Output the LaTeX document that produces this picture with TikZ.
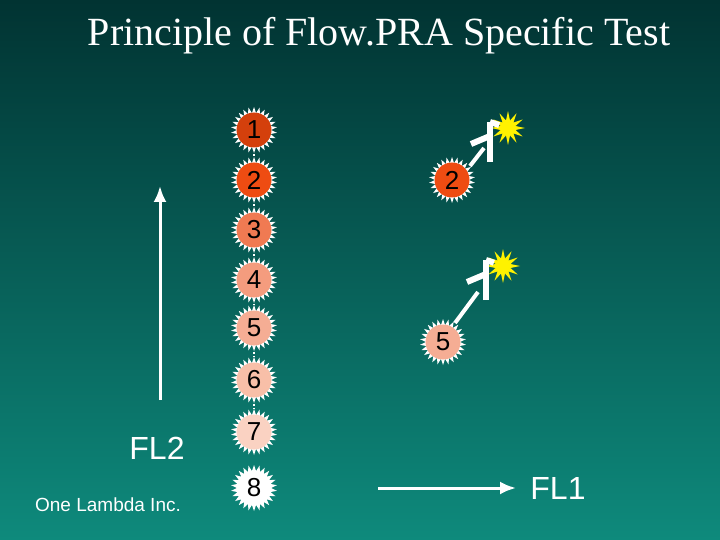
\documentclass[tikz,border=0pt]{standalone}
\usepackage{fontspec}
\setmainfont{Liberation Serif}
\setsansfont{Liberation Sans}
\usetikzlibrary{shapes.symbols,shapes.geometric,arrows.meta}
\definecolor{bgtop}{HTML}{013332}
\definecolor{bgbot}{HTML}{0E8A7C}
\definecolor{b1}{HTML}{D4400C}
\definecolor{b2}{HTML}{EE4C12}
\definecolor{b3}{HTML}{F07A52}
\definecolor{b4}{HTML}{F49C7E}
\definecolor{b5}{HTML}{F5AD94}
\definecolor{b6}{HTML}{F8BFA8}
\definecolor{b7}{HTML}{FAD2C2}
\definecolor{b8}{HTML}{FFFFFF}
\tikzset{
 burst/.style={shape=starburst,starburst points=26,starburst point height=6pt,random starburst=0,fill=white,draw=none,minimum size=46pt,inner sep=0pt},
 core/.style={circle,fill=#1,minimum size=35pt,inner sep=0pt,font=\sffamily\fontsize{26}{26}\selectfont},
 ab/.style={white,line width=6pt},
 flu/.style={shape=star,star points=12,star point ratio=2.2,fill=yellow,draw=none,minimum size=34pt,inner sep=0pt},
 arr/.style={white,line width=3pt,-{Latex[length=16pt,width=13pt]}},
 lbl/.style={white,font=\sffamily\fontsize{32}{32}\selectfont}
}
\begin{document}
\begin{tikzpicture}[x=1pt,y=-1pt]
\shade[top color=bgtop,bottom color=bgbot] (0,0) rectangle (720,540);
\useasboundingbox (0,0) rectangle (720,540);
\node[white,font=\fontsize{40}{40}\selectfont] (title) at (379,36) {Principle of Flow.PRA Specific Test};
\foreach \i/\y in {1/130,2/180,3/230,4/280,5/328,6/380,7/432,8/488}{
  \node[burst] (s\i) at (254,\y) {};
  \node[core=b\i] (c\i) at (254,\y) {\i};
}
\foreach \a/\b in {1/2,2/3,3/4,4/5,5/6,6/7}{
  \draw[white,line width=2pt,dotted] (s\a) -- (s\b);
}
% right beads
\node[burst] (r2) at (452,180) {};
\node[core=b2] (rc2) at (452,180) {2};
\node[burst] (r5) at (443,342) {};
\node[core=b5] (rc5) at (443,342) {5};
% antibodies top
\coordinate (p0) at (470,166);
\coordinate (p1) at (484,148);
\coordinate (y1b) at (490,162);
\coordinate (y1t) at (490,122);
\coordinate (y1m) at (490,136);
\coordinate (y1l) at (471,144);
\node[flu] (f1) at (508,128) {};
\draw[white,line width=4pt] (p0) -- (p1);
\draw[ab] (y1b) -- (y1t);
\draw[ab] (y1m) -- (y1l);
\draw[ab] (y1t) -- (f1);
% antibodies bottom
\coordinate (q0) at (455,323);
\coordinate (p2) at (478,292);
\coordinate (y2b) at (486,300);
\coordinate (y2t) at (486,260);
\coordinate (y2m) at (486,274);
\coordinate (y2l) at (467,282);
\node[flu] (f2) at (503,266) {};
\draw[white,line width=4pt] (q0) -- (p2);
\draw[ab] (y2b) -- (y2t);
\draw[ab] (y2m) -- (y2l);
\draw[ab] (y2t) -- (f2);
% axes
\coordinate (a1) at (160,400);
\coordinate (a2) at (160,186);
\draw[arr] (a1) -- (a2);
\coordinate (h1) at (378,488);
\coordinate (h2) at (516,488);
\draw[arr] (h1) -- (h2);
\node[lbl] (fl2) at (157,448) {FL2};
\node[lbl] (fl1) at (558,488) {FL1};
\node[white,font=\sffamily\fontsize{19}{19}\selectfont] (ol) at (108,505) {One Lambda Inc.};
\end{tikzpicture}
\end{document}
